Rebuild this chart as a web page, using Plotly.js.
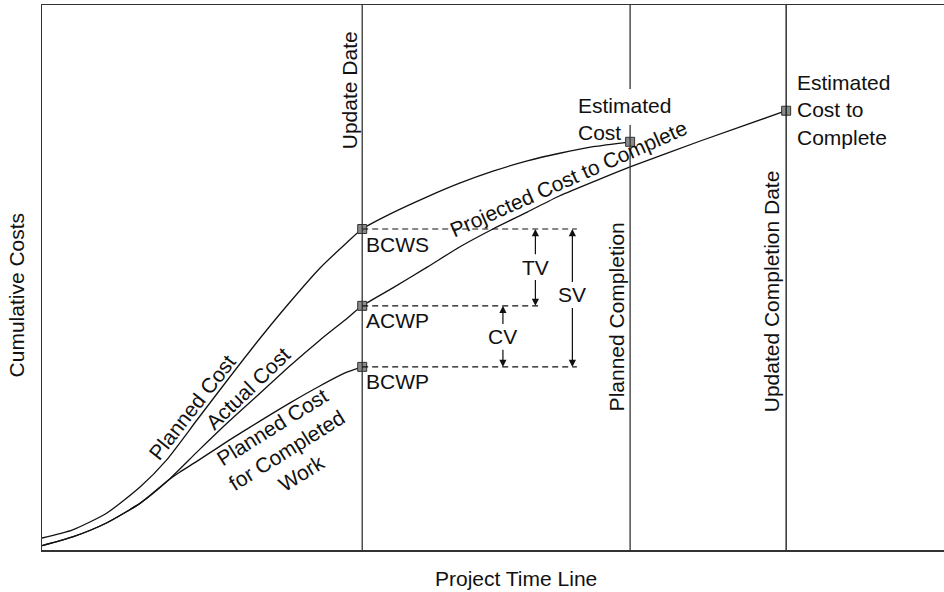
<!DOCTYPE html>
<html>
<head>
<meta charset="utf-8">
<script src="https://cdn.plot.ly/plotly-3.0.1.min.js"></script>
<style>
  body { margin: 0; background: #fff; }
  #myDiv { width: 944px; height: 592px; }
</style>
</head>
<body>
<div id="myDiv"></div>
<script>
// project time (0-100) vs cumulative cost (0-100)
var plannedX = [0, 3.4, 7.2, 10.9, 13.8, 17.2, 20.8, 24.2, 27.5, 30.8, 33.6, 35.5, 38.9, 42.7, 46.3, 50.0, 53.8, 57.4, 61.1, 65.2];
var plannedY = [2.2, 3.7, 6.8, 11.6, 16.5, 23.9, 31.7, 38.9, 45.5, 51.7, 56.1, 58.9, 61.9, 64.8, 67.3, 69.5, 71.4, 72.8, 74.0, 74.9];

var actualX = [0, 3.4, 7.2, 10.9, 14.0, 17.2, 20.8, 24.2, 27.5, 30.8, 33.6, 35.5, 38.9, 42.7, 46.3, 50.0, 53.8, 57.4, 61.9, 65.2, 72.9, 82.5];
var actualY = [0.8, 2.4, 5.0, 8.6, 12.8, 18.0, 23.7, 28.8, 33.8, 38.5, 42.2, 44.8, 48.1, 51.9, 55.6, 58.9, 62.0, 65.0, 68.1, 70.3, 75.0, 80.6];

var earnedX = [0, 3.4, 7.2, 10.9, 14.0, 15.3, 17.2, 20.8, 24.2, 27.5, 30.8, 33.6, 35.5];
var earnedY = [0.8, 2.4, 5.0, 8.6, 12.8, 14.3, 16.3, 20.2, 23.7, 27.0, 30.1, 32.5, 33.6];

var updateDate = 35.5;
var plannedCompletion = 65.2;
var updatedCompletion = 82.5;

var markerX = [35.5, 35.5, 35.5, 65.2, 82.5];
var markerY = [58.9, 44.8, 33.6, 74.9, 80.6];

var levelNames = ['BCWS', 'ACWP', 'BCWP'];
var levelY = [58.9, 44.8, 33.6];
var levelEndX = [59.3, 55.0, 59.3];

var varNames = ['TV', 'SV', 'CV'];
var varX = [54.7, 58.8, 51.1];
var varTop = [58.9, 58.9, 44.8];
var varBottom = [44.8, 33.6, 33.6];
var varLabelY = [51.9, 46.8, 39.1];

var font = {family: 'Liberation Sans, Arial, sans-serif', size: 21, color: '#111'};
var lineStyle = {color: '#111', width: 1.3, shape: 'spline', smoothing: 0.6};

var data = [
    {x: plannedX, y: plannedY, mode: 'lines', line: lineStyle, name: 'Planned Cost'},
    {x: actualX, y: actualY, mode: 'lines', line: lineStyle, name: 'Actual Cost'},
    {x: earnedX, y: earnedY, mode: 'lines', line: lineStyle, name: 'Planned Cost for Completed Work'},
    {x: markerX, y: markerY, mode: 'markers', name: 'points',
     marker: {symbol: 'square', size: 9, color: '#8a8a8a', line: {color: '#333', width: 1}}}
];

var shapes = [
    {type: 'line', xref: 'x', yref: 'y', x0: updateDate, x1: updateDate, y0: 0, y1: 100, line: {color: '#333', width: 1.3}},
    {type: 'line', xref: 'x', yref: 'y', x0: plannedCompletion, x1: plannedCompletion, y0: 0, y1: 78, line: {color: '#333', width: 1.3}},
    {type: 'line', xref: 'x', yref: 'y', x0: plannedCompletion, x1: plannedCompletion, y0: 84.6, y1: 100, line: {color: '#333', width: 1.3}},
    {type: 'line', xref: 'x', yref: 'y', x0: updatedCompletion, x1: updatedCompletion, y0: 0, y1: 100, line: {color: '#111', width: 1.3}}
];
for (var i = 0; i < levelY.length; i++) {
    shapes.push({type: 'line', xref: 'x', yref: 'y', x0: updateDate, x1: levelEndX[i], y0: levelY[i], y1: levelY[i],
                 line: {color: '#111', width: 1.2, dash: '6px,4px'}});
}

var annotations = [
    {text: 'Update Date', x: updateDate, y: 84.4, xshift: -13, textangle: -90},
    {text: 'Planned Completion', x: plannedCompletion, y: 42.7, xshift: -14, textangle: -90},
    {text: 'Updated Completion Date', x: updatedCompletion, y: 47.5, xshift: -15, textangle: -90},
    {text: 'Estimated<br>Cost', x: 59.2, y: 79.1, xanchor: 'left', align: 'left'},
    {text: 'Estimated<br>Cost to<br>Complete', x: 83.5, y: 80.7, xanchor: 'left', align: 'left'},
    {text: 'Planned Cost', x: 16.6, y: 26.2, textangle: -52},
    {text: 'Actual Cost', x: 22.8, y: 29.7, textangle: -44},
    {text: 'Planned Cost<br>for Completed<br>Work', x: 27.2, y: 18.3, textangle: -32},
    {text: 'Projected Cost to Complete', x: 58.4, y: 68.2, textangle: -24},
    {text: 'Cumulative Costs', xref: 'paper', x: 0, xanchor: 'center', xshift: -25.5, y: 46.8, textangle: -90},
    {text: 'Project Time Line', yref: 'paper', y: 0, yanchor: 'middle', yshift: -28, x: 52.5}
];
for (var j = 0; j < levelNames.length; j++) {
    annotations.push({text: levelNames[j], x: updateDate, xshift: 2, y: levelY[j], yshift: -15, xanchor: 'left'});
}
var gap = 2.1;
for (var k = 0; k < varNames.length; k++) {
    annotations.push({text: varNames[k], x: varX[k], y: varLabelY[k]});
    annotations.push({text: '', x: varX[k], y: varTop[k], ax: varX[k], ay: varLabelY[k] + gap,
                      axref: 'x', ayref: 'y', showarrow: true, arrowhead: 2, arrowsize: 1.2, arrowwidth: 1.2, arrowcolor: '#111'});
    annotations.push({text: '', x: varX[k], y: varBottom[k], ax: varX[k], ay: varLabelY[k] - gap,
                      axref: 'x', ayref: 'y', showarrow: true, arrowhead: 2, arrowsize: 1.2, arrowwidth: 1.2, arrowcolor: '#111'});
}
annotations.forEach(function (a) {
    if (!a.xref) a.xref = 'x';
    if (!a.yref) a.yref = 'y';
    if (a.showarrow === undefined) a.showarrow = false;
    a.font = font;
});

var layout = {
    width: 944,
    height: 592,
    margin: {l: 42, r: 0, t: 5, b: 42},
    paper_bgcolor: '#fff',
    plot_bgcolor: '#fff',
    showlegend: false,
    hovermode: false,
    xaxis: {range: [0, 100], showline: true, mirror: true, linecolor: '#333', linewidth: 1.5,
            showticklabels: false, showgrid: false, zeroline: false, ticks: ''},
    yaxis: {range: [0, 100], showline: true, linecolor: '#333', linewidth: 1.5,
            showticklabels: false, showgrid: false, zeroline: false, ticks: ''},
    shapes: shapes,
    annotations: annotations
};

Plotly.newPlot('myDiv', data, layout, {staticPlot: true});
</script>
</body>
</html>
